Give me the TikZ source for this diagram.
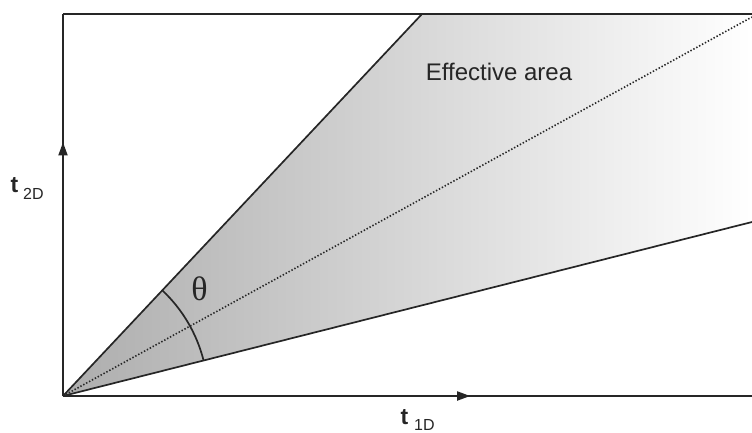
\documentclass[tikz,border=0pt]{standalone}
\usepackage{fontspec}
\setmainfont{Liberation Sans}
\newfontfamily\thetafont{Liberation Serif}
\usetikzlibrary{arrows.meta,decorations.markings}
\definecolor{ink}{HTML}{262626}
\definecolor{shadeL}{HTML}{ADADAD}
\definecolor{shadeM}{HTML}{CDCDCD}
\tikzset{
  frameline/.style={draw=ink, line width=1.8pt},
  edgeline/.style={draw=ink, line width=1.7pt},
  midline/.style={draw=ink, line width=1.6pt, dash pattern=on 1.4pt off 1.9pt},
  arrowat/.style={postaction=decorate, decoration={markings,
      mark=at position #1 with {\arrow{Triangle[length=13pt,width=9pt]}}}},
  lab/.style={text=ink, inner sep=0pt},
}
\begin{document}
\begin{tikzpicture}[x=1pt,y=1pt]
\useasboundingbox (0,0) rectangle (752,432);
\coordinate (O) at (63,36);
\coordinate (TL) at (63,418);
\coordinate (TR) at (752,418);
\coordinate (BR) at (752,36);
\coordinate (U) at (422,418);
\coordinate (L) at (752,210);
\coordinate (D) at (752,415);
% effective area
\shade[left color=shadeL, middle color=shadeM, right color=white] (O) -- (U) -- (TR) -- (L) -- cycle;
\draw[edgeline] (O) -- (U);
\draw[edgeline] (O) -- (L);
\draw[midline] (O) -- (D);
% angle arc
\draw[edgeline] (O) ++(14.2:145) arc[start angle=14.2, end angle=46.8, radius=145];
% frame and axes
\draw[frameline] (TL) -- (TR);
\draw[frameline, arrowat=0.664] (O) -- (TL);
\draw[frameline, arrowat=0.591] (O) -- (BR);
% labels
\node[lab, anchor=base west] (t2) at (10.5,240) {\fontsize{23}{23}\selectfont\bfseries t};
\node[lab, anchor=base west] (s2) at (23,233) {\fontsize{16}{16}\selectfont 2D};
\node[lab, anchor=base west] (t1) at (400.5,8) {\fontsize{23}{23}\selectfont\bfseries t};
\node[lab, anchor=base west] (s1) at (414,1.5) {\fontsize{16}{16}\selectfont 1D};
\node[lab] (th) at (199.5,143) {\fontsize{34}{34}\selectfont\thetafont θ};
\node[lab] (ea) at (499,360) {\fontsize{24}{24}\selectfont Effective area};
\end{tikzpicture}
\end{document}
